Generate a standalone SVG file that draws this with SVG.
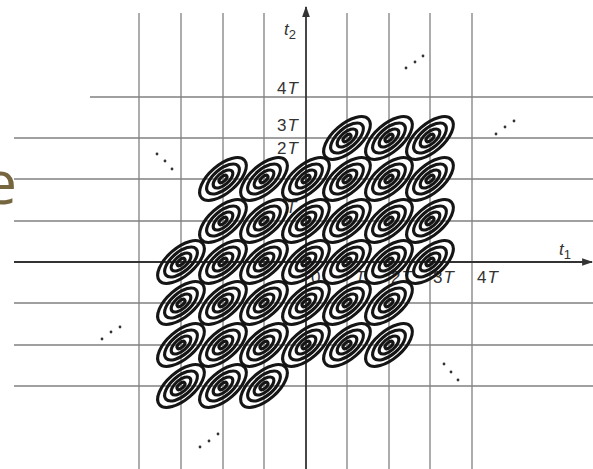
<svg xmlns="http://www.w3.org/2000/svg" xmlns:xlink="http://www.w3.org/1999/xlink" width="593" height="469" viewBox="0 0 593 469">
<style>
.grid{stroke:#808080;stroke-width:1.3;fill:none}
.axis{stroke:#333;stroke-width:1.8;fill:none}
.lbl{font-family:"Liberation Sans",Arial,sans-serif;font-size:17px;fill:#333}
.it{font-style:italic}
.ring{fill:none;stroke:#151515;stroke-width:3.1}
.dot{fill:#333}
</style>
<defs>
<marker id="arr" viewBox="0 0 10 10" refX="9" refY="5" markerWidth="11" markerHeight="11" markerUnits="userSpaceOnUse" orient="auto">
<path d="M0,1.5 L10,5 L0,8.5 Z" fill="#333"/>
</marker>
<g id="ell" transform="rotate(-41)">
<ellipse class="ring" rx="28.5" ry="13.8"/>
<ellipse class="ring" rx="20" ry="9.6"/>
<ellipse class="ring" rx="12" ry="5.8"/>
<ellipse class="ring" rx="4.8" ry="2.4"/>
</g>
</defs>
<rect width="593" height="469" fill="#fff"/>
<text x="17" y="204" text-anchor="end" style="font-family:'Open Sans',sans-serif;font-size:60px;fill:#75663f">e</text>
<g id="grid">
<line class="grid" x1="139" y1="13" x2="139" y2="469"/>
<line class="grid" x1="181" y1="13" x2="181" y2="469"/>
<line class="grid" x1="223" y1="13" x2="223" y2="469"/>
<line class="grid" x1="264" y1="13" x2="264" y2="469"/>
<line class="grid" x1="347" y1="13" x2="347" y2="469"/>
<line class="grid" x1="389" y1="13" x2="389" y2="469"/>
<line class="grid" x1="430" y1="13" x2="430" y2="469"/>
<line class="grid" x1="472" y1="13" x2="472" y2="469"/>
<line class="grid" x1="90" y1="97" x2="593" y2="97"/>
<line class="grid" x1="14" y1="138" x2="593" y2="138"/>
<line class="grid" x1="14" y1="179" x2="593" y2="179"/>
<line class="grid" x1="14" y1="221" x2="593" y2="221"/>
<line class="grid" x1="14" y1="303" x2="593" y2="303"/>
<line class="grid" x1="14" y1="345" x2="593" y2="345"/>
<line class="grid" x1="14" y1="386" x2="593" y2="386"/>
</g>
<g id="axes">
<line class="axis" x1="14" y1="262" x2="592" y2="262" marker-end="url(#arr)"/>
<line class="axis" x1="306" y1="469" x2="306" y2="7" marker-end="url(#arr)"/>
</g>
<g id="labels">
<text class="lbl" x="284" y="35" font-size="18"><tspan class="it">t</tspan><tspan font-size="13" dy="4">2</tspan></text>
<text class="lbl" x="559" y="255" font-size="18"><tspan class="it">t</tspan><tspan font-size="13" dy="4">1</tspan></text>
<text class="lbl" x="277" y="94">4<tspan class="it" dx="1">T</tspan></text>
<text class="lbl" x="277" y="131">3<tspan class="it" dx="1">T</tspan></text>
<text class="lbl" x="277" y="154">2<tspan class="it" dx="1">T</tspan></text>
<text class="lbl it" x="286" y="213">T</text>
<text class="lbl" x="311" y="283">0</text>
<text class="lbl it" x="355" y="283">T</text>
<text class="lbl" x="391" y="283">2<tspan class="it" dx="1">T</tspan></text>
<text class="lbl" x="433" y="283">3<tspan class="it" dx="1">T</tspan></text>
<text class="lbl" x="477" y="283">4<tspan class="it" dx="1">T</tspan></text>
</g>
<g id="dots">
<circle class="dot" cx="406" cy="68" r="1.4"/><circle class="dot" cx="415" cy="62" r="1.4"/><circle class="dot" cx="423" cy="56" r="1.4"/>
<circle class="dot" cx="496" cy="134" r="1.4"/><circle class="dot" cx="505" cy="127" r="1.4"/><circle class="dot" cx="514" cy="121" r="1.4"/>
<circle class="dot" cx="157" cy="154" r="1.4"/><circle class="dot" cx="165" cy="161" r="1.4"/><circle class="dot" cx="172" cy="169" r="1.4"/>
<circle class="dot" cx="102" cy="339" r="1.4"/><circle class="dot" cx="111" cy="332" r="1.4"/><circle class="dot" cx="120" cy="327" r="1.4"/>
<circle class="dot" cx="444" cy="364" r="1.4"/><circle class="dot" cx="451" cy="372" r="1.4"/><circle class="dot" cx="458" cy="380" r="1.4"/>
<circle class="dot" cx="200" cy="447" r="1.4"/><circle class="dot" cx="209" cy="441" r="1.4"/><circle class="dot" cx="218" cy="434" r="1.4"/>
</g>
<g id="ellipses">
<use xlink:href="#ell" x="347" y="138"/><use xlink:href="#ell" x="389" y="138"/><use xlink:href="#ell" x="430" y="138"/>
<use xlink:href="#ell" x="223" y="179"/><use xlink:href="#ell" x="264" y="179"/><use xlink:href="#ell" x="306" y="179"/><use xlink:href="#ell" x="347" y="179"/><use xlink:href="#ell" x="389" y="179"/><use xlink:href="#ell" x="430" y="179"/>
<use xlink:href="#ell" x="223" y="221"/><use xlink:href="#ell" x="264" y="221"/><use xlink:href="#ell" x="306" y="221"/><use xlink:href="#ell" x="347" y="221"/><use xlink:href="#ell" x="389" y="221"/><use xlink:href="#ell" x="430" y="221"/>
<use xlink:href="#ell" x="181" y="262"/><use xlink:href="#ell" x="223" y="262"/><use xlink:href="#ell" x="264" y="262"/><use xlink:href="#ell" x="306" y="262"/><use xlink:href="#ell" x="347" y="262"/><use xlink:href="#ell" x="389" y="262"/><use xlink:href="#ell" x="430" y="262"/>
<use xlink:href="#ell" x="181" y="303"/><use xlink:href="#ell" x="223" y="303"/><use xlink:href="#ell" x="264" y="303"/><use xlink:href="#ell" x="306" y="303"/><use xlink:href="#ell" x="347" y="303"/><use xlink:href="#ell" x="389" y="303"/>
<use xlink:href="#ell" x="181" y="345"/><use xlink:href="#ell" x="223" y="345"/><use xlink:href="#ell" x="264" y="345"/><use xlink:href="#ell" x="306" y="345"/><use xlink:href="#ell" x="347" y="345"/><use xlink:href="#ell" x="389" y="345"/>
<use xlink:href="#ell" x="181" y="386"/><use xlink:href="#ell" x="223" y="386"/><use xlink:href="#ell" x="264" y="386"/>
</g>
</svg>
